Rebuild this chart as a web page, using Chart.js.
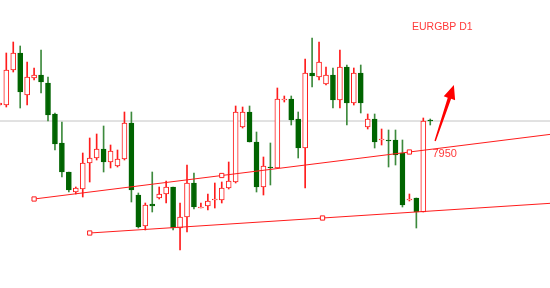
<!DOCTYPE html>
<html>
<head>
<meta charset="utf-8">
<script src="https://cdn.jsdelivr.net/npm/chart.js@4.4.0/dist/chart.umd.min.js"></script>
<style>
  html, body { margin: 0; padding: 0; background: #ffffff; overflow: hidden; }
  canvas { display: block; }
</style>
</head>
<body>
<canvas id="chart" width="550" height="288"></canvas>
<script>
// EURGBP daily bars, oldest first
const symbolTitle = 'EURGBP D1';

const opens = [
  0.7997, 0.7997, 0.8032, 0.8049, 0.8007, 0.8024, 0.8027, 0.8019, 0.7988, 0.7959,
  0.7930, 0.7910, 0.7913, 0.7939, 0.7944, 0.7953, 0.7940, 0.7936, 0.7943, 0.7979,
  0.7907, 0.7876, 0.7898, 0.7904, 0.7908, 0.7915, 0.7874, 0.7885, 0.7919, 0.7894,
  0.7896, 0.7902, 0.7902, 0.7914, 0.7920, 0.7975, 0.7990, 0.7960, 0.7915, 0.7935,
  0.7934, 0.8002, 0.8003, 0.7983, 0.7954, 0.8029, 0.8025, 0.8018, 0.8027, 0.8002,
  0.8035, 0.7999, 0.8029, 0.7975, 0.7983, 0.7962, 0.7962, 0.7962, 0.7949, 0.7902,
  0.7904, 0.7890, 0.7982
];
const highs = [
  0.7999, 0.8049, 0.8060, 0.8056, 0.8040, 0.8034, 0.8052, 0.8025, 0.7989, 0.7980,
  0.7930, 0.7915, 0.7949, 0.7964, 0.7968, 0.7976, 0.7957, 0.7952, 0.7990, 0.7990,
  0.7909, 0.7899, 0.7930, 0.7915, 0.7921, 0.7915, 0.7899, 0.7937, 0.7929, 0.7899,
  0.7908, 0.7919, 0.7920, 0.7940, 0.7996, 0.7995, 0.7996, 0.7970, 0.7945, 0.7959,
  0.8014, 0.8006, 0.8006, 0.7990, 0.8043, 0.8064, 0.8060, 0.8035, 0.8034, 0.8052,
  0.8037, 0.8034, 0.8037, 0.7988, 0.7988, 0.7973, 0.7972, 0.7972, 0.7962, 0.7908,
  0.7904, 0.7984, 0.7983
];
const lows = [
  0.7996, 0.7995, 0.8030, 0.7994, 0.7997, 0.8022, 0.8009, 0.7981, 0.7952, 0.7925,
  0.7910, 0.7908, 0.7905, 0.7920, 0.7942, 0.7930, 0.7934, 0.7935, 0.7942, 0.7900,
  0.7874, 0.7872, 0.7890, 0.7903, 0.7899, 0.7872, 0.7852, 0.7870, 0.7893, 0.7894,
  0.7892, 0.7894, 0.7899, 0.7913, 0.7919, 0.7974, 0.7960, 0.7910, 0.7907, 0.7917,
  0.7934, 0.8000, 0.7977, 0.7944, 0.7914, 0.8015, 0.8022, 0.8017, 0.7994, 0.7994,
  0.7977, 0.7997, 0.7989, 0.7973, 0.7954, 0.7957, 0.7935, 0.7937, 0.7895, 0.7901,
  0.7874, 0.7890, 0.7977
];
const closes = [
  0.7999, 0.8032, 0.8049, 0.8010, 0.8025, 0.8027, 0.8020, 0.7987, 0.7958, 0.7930,
  0.7912, 0.7914, 0.7939, 0.7944, 0.7953, 0.7940, 0.7951, 0.7943, 0.7979, 0.7912,
  0.7875, 0.7897, 0.7896, 0.7908, 0.7915, 0.7874, 0.7885, 0.7919, 0.7895, 0.7895,
  0.7901, 0.7903, 0.7914, 0.7921, 0.7990, 0.7990, 0.7960, 0.7915, 0.7936, 0.7934,
  0.8003, 0.8003, 0.7982, 0.7954, 0.8029, 0.8026, 0.8040, 0.8027, 0.8002, 0.8035,
  0.7999, 0.8029, 0.7999, 0.7983, 0.7960, 0.7963, 0.7961, 0.7947, 0.7897, 0.7903,
  0.7890, 0.7981, 0.7981
];

// Trend line anchors: [bar index, price]
const upperTrend = [[5, 0.7903], [59, 0.7950]];
const lowerTrend = [[13, 0.7869], [80, 0.7899]];

// Arrow annotation: [bar index, price]
const arrowFrom = [62.7, 0.7961];
const arrowTo = [65.4, 0.8017];

// Visible window
const X_MIN = 0.0935, X_MAX = 79.23;
const Y_MIN = 0.7814, Y_MAX = 0.8102;

const RED = '#ff1c1c';
const GREEN = '#006400';
const GREEN_WICK = '#3d8a3d';

const idx = opens.map((_, i) => i);
const isUp = i => closes[i] >= opens[i];

function trendPoints(a, b, extendTo) {
  const slope = (b[1] - a[1]) / (b[0] - a[0]);
  const pts = [
    { x: a[0], y: a[1] },
    { x: (a[0] + b[0]) / 2, y: (a[1] + b[1]) / 2 },
    { x: b[0], y: b[1] }
  ];
  if (extendTo > b[0]) pts.push({ x: extendTo, y: b[1] + slope * (extendTo - b[0]) });
  return pts;
}

function trendDataset(a, b) {
  const pts = trendPoints(a, b, X_MAX + 1);
  return {
    type: 'line',
    data: pts,
    borderColor: RED,
    borderWidth: 1,
    tension: 0,
    fill: false,
    pointStyle: 'rect',
    pointRadius: pts.map((_, k) => (k < 3 ? 3 : 0)),
    pointBackgroundColor: '#ffffff',
    pointBorderColor: RED,
    pointBorderWidth: 1,
    order: 0
  };
}

const lastClose = closes[closes.length - 1];

const annotations = {
  id: 'annotations',
  afterDatasetsDraw(chart) {
    const { ctx, scales: { x, y } } = chart;
    ctx.save();

    // symbol / timeframe caption
    ctx.fillStyle = '#ff3a3a';
    ctx.font = '10.5px "Liberation Sans", Arial, sans-serif';
    ctx.textBaseline = 'alphabetic';
    ctx.fillText(symbolTitle, 412, 30);

    // price label next to the upper trend line anchor
    const anchor = upperTrend[1];
    ctx.font = '11px "Liberation Sans", Arial, sans-serif';
    ctx.fillText(anchor[1].toFixed(4).slice(2),
      x.getPixelForValue(anchor[0]) + 23, y.getPixelForValue(anchor[1]) + 5);

    // upward arrow
    const x0 = x.getPixelForValue(arrowFrom[0]), y0 = y.getPixelForValue(arrowFrom[1]);
    const x1 = x.getPixelForValue(arrowTo[0]), y1 = y.getPixelForValue(arrowTo[1]);
    const dx = x1 - x0, dy = y1 - y0;
    const len = Math.hypot(dx, dy);
    const ux = dx / len, uy = dy / len;
    const nx = -uy, ny = ux;
    const headLen = 14, headHalf = 6;
    const bx = x1 - ux * headLen, by = y1 - uy * headLen;
    const w0 = 0.7, w1 = 1.8;
    ctx.fillStyle = '#ff0000';
    ctx.beginPath();
    ctx.moveTo(x0 + nx * w0, y0 + ny * w0);
    ctx.lineTo(bx + nx * w1, by + ny * w1);
    ctx.lineTo(bx + nx * headHalf, by + ny * headHalf);
    ctx.lineTo(x1, y1);
    ctx.lineTo(bx - nx * headHalf, by - ny * headHalf);
    ctx.lineTo(bx - nx * w1, by - ny * w1);
    ctx.lineTo(x0 - nx * w0, y0 - ny * w0);
    ctx.closePath();
    ctx.fill();

    ctx.restore();
  }
};

new Chart(document.getElementById('chart'), {
  type: 'bar',
  data: {
    datasets: [
      // current price line
      {
        type: 'line',
        data: [{ x: X_MIN, y: lastClose }, { x: X_MAX, y: lastClose }],
        borderColor: '#c4c4c4',
        borderWidth: 1,
        pointRadius: 0,
        fill: false,
        order: 3
      },
      // wicks
      {
        type: 'bar',
        data: idx.map(i => ({ x: i, y: [lows[i], highs[i]] })),
        backgroundColor: idx.map(i => (isUp(i) ? RED : GREEN_WICK)),
        borderWidth: 0,
        barThickness: 1,
        grouped: false,
        order: 2
      },
      // bodies
      {
        type: 'bar',
        data: idx.map(i => ({ x: i, y: [opens[i], closes[i]] })),
        backgroundColor: idx.map(i => (isUp(i) ? '#ffffff' : GREEN)),
        borderColor: idx.map(i => (isUp(i) ? RED : GREEN)),
        borderWidth: 1,
        borderSkipped: false,
        barThickness: 5,
        grouped: false,
        order: 1
      },
      trendDataset(upperTrend[0], upperTrend[1]),
      trendDataset(lowerTrend[0], lowerTrend[1])
    ]
  },
  options: {
    responsive: false,
    animation: false,
    devicePixelRatio: 1,
    layout: { padding: 0, autoPadding: false },
    plugins: { legend: { display: false }, tooltip: { enabled: false } },
    scales: {
      x: { type: 'linear', min: X_MIN, max: X_MAX, display: false, offset: false },
      y: { type: 'linear', min: Y_MIN, max: Y_MAX, display: false }
    }
  },
  plugins: [annotations]
});
</script>
</body>
</html>
